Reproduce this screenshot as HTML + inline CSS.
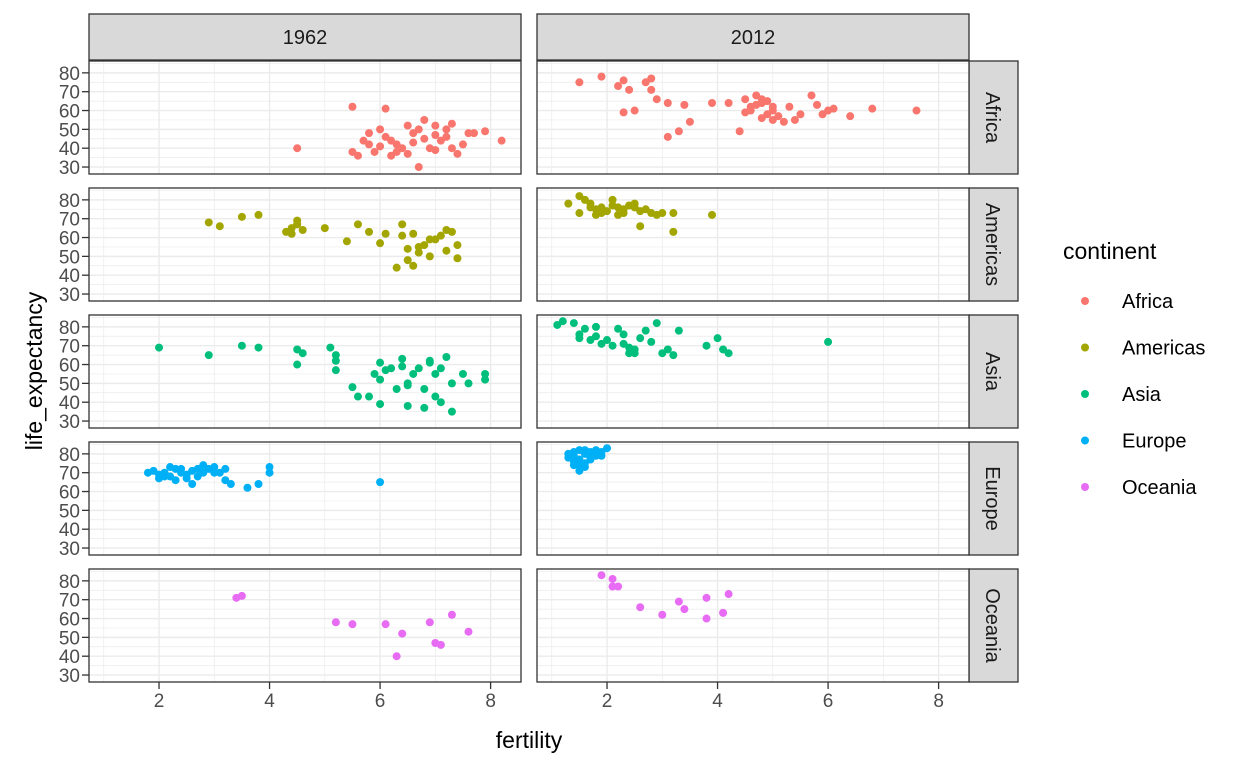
<!DOCTYPE html>
<html><head><meta charset="utf-8"><style>
body{margin:0;background:#fff;}
svg{display:block;font-family:"Liberation Sans",Arial,sans-serif;}
</style></head><body>
<svg id="chart" width="1248" height="768"></svg>
<script>
const years=["1962","2012"];
const continents=["Africa","Americas","Asia","Europe","Oceania"];
const colors=["#F8766D","#A3A500","#00BF7D","#00B0F6","#E76BF3"];
const xTicks=[2,4,6,8];
const yTicks=[30,40,50,60,70,80];
const africa1962=[[4.5,40],[5.5,62],[6.1,61],[5.5,38],[5.6,36],[5.7,44],[5.8,48],[5.9,38],[6.0,50],[6.1,46],[6.2,36],[6.3,42],[6.4,40],[6.5,37],[6.6,48],[6.7,50],[6.7,30],[6.8,45],[6.9,40],[7.0,52],[7.0,47],[7.1,44],[7.2,50],[7.3,53],[7.3,40],[7.4,37],[7.5,42],[7.6,48],[7.7,48],[7.9,49],[8.2,44],[6.0,41],[6.2,44],[6.5,52],[6.8,55],[7.0,39],[7.2,46],[6.3,38],[5.8,42],[6.6,43]];
const africa2012=[[1.5,75],[1.9,78],[2.2,73],[2.3,76],[2.4,71],[2.7,75],[2.8,77],[2.8,71],[2.5,60],[2.9,66],[2.3,59],[3.1,64],[3.1,46],[3.3,49],[3.4,63],[3.5,54],[3.9,64],[4.2,64],[4.4,49],[4.5,66],[4.6,62],[4.7,68],[4.8,64],[4.9,58],[5.0,60],[4.8,56],[5.0,55],[5.2,54],[5.4,55],[5.3,62],[5.5,58],[5.7,68],[5.8,63],[5.9,58],[6.0,60],[6.1,61],[6.4,57],[6.8,61],[7.6,60],[4.6,60],[4.9,65],[5.0,62],[4.7,63],[4.5,59],[5.1,57],[4.8,66]];
const americas1962=[[2.9,68],[3.1,66],[3.5,71],[3.8,72],[4.3,63],[4.4,65],[4.5,69],[4.5,67],[4.4,62],[4.6,64],[5.0,65],[5.4,58],[5.6,67],[5.8,63],[6.0,57],[6.1,62],[6.3,44],[6.4,67],[6.4,61],[6.5,48],[6.6,45],[6.6,62],[6.7,55],[6.8,56],[6.9,59],[6.9,50],[7.0,59],[7.1,61],[7.2,64],[7.2,53],[7.3,63],[7.4,56],[7.4,49],[6.7,52],[6.5,54]];
const americas2012=[[1.3,78],[1.5,82],[1.6,80],[1.7,78],[1.8,75],[1.9,76],[1.5,73],[1.8,72],[2.0,74],[2.1,77],[2.2,76],[2.3,75],[2.3,73],[2.4,77],[2.5,78],[2.5,76],[2.6,74],[2.6,66],[2.8,73],[2.9,72],[3.0,73],[3.2,63],[3.2,73],[3.9,72],[2.2,72],[1.9,73],[2.1,80],[1.7,76],[2.7,75]];
const asia1962=[[2.0,69],[2.9,65],[3.5,70],[3.8,69],[4.5,68],[4.5,60],[4.6,66],[5.1,69],[5.2,65],[5.2,57],[5.2,62],[5.5,48],[5.6,43],[5.8,43],[5.9,55],[6.0,61],[6.0,39],[6.1,57],[6.2,58],[6.3,47],[6.4,63],[6.4,59],[6.5,50],[6.5,38],[6.6,55],[6.7,58],[6.8,37],[6.8,47],[6.9,61],[6.9,62],[7.0,55],[7.0,43],[7.1,58],[7.1,40],[7.2,64],[7.3,35],[7.3,50],[7.5,55],[7.6,50],[7.9,55],[7.9,52],[6.5,49],[6.0,52]];
const asia2012=[[1.1,81],[1.2,83],[1.4,82],[1.5,76],[1.6,79],[1.7,73],[1.8,80],[1.8,75],[1.9,71],[2.0,73],[2.2,79],[2.3,76],[2.4,69],[2.4,66],[2.5,68],[2.6,74],[2.7,78],[2.8,72],[2.9,82],[3.0,66],[3.1,68],[3.2,65],[3.3,78],[3.8,70],[4.0,74],[4.1,68],[4.2,66],[6.0,72],[2.3,71],[2.5,66],[1.5,74],[2.1,70]];
const europe1962=[[1.8,70],[1.9,71],[2.0,69],[2.0,67],[2.1,70],[2.2,68],[2.3,72],[2.3,66],[2.4,70],[2.5,69],[2.6,71],[2.6,64],[2.7,68],[2.8,70],[2.9,72],[3.0,70],[3.0,73],[3.1,70],[3.2,66],[3.2,72],[3.6,62],[3.8,64],[4.0,73],[4.0,70],[6.0,65],[2.2,73],[2.4,72],[2.8,74],[2.1,68],[2.5,67],[2.7,72],[3.3,64]];
const europe2012=[[1.3,80],[1.4,79],[1.4,76],[1.5,82],[1.5,74],[1.5,71],[1.6,80],[1.6,75],[1.7,81],[1.7,78],[1.8,82],[1.9,81],[2.0,83],[1.3,78],[1.4,81],[1.6,73],[1.5,77],[1.9,79],[1.6,82],[1.8,79],[1.4,74],[1.7,77]];
const oceania1962=[[3.4,71],[3.5,72],[5.2,58],[5.5,57],[6.1,57],[6.3,40],[6.4,52],[6.9,58],[7.0,47],[7.1,46],[7.3,62],[7.6,53]];
const oceania2012=[[1.9,83],[2.1,81],[2.1,77],[2.2,77],[2.6,66],[3.0,62],[3.3,69],[3.4,65],[3.8,71],[3.8,60],[4.1,63],[4.2,73]];
const series=[[africa1962,africa2012],[americas1962,americas2012],[asia1962,asia2012],[europe1962,europe2012],[oceania1962,oceania2012]];

const NS="http://www.w3.org/2000/svg";
const svg=document.getElementById("chart");
function mk(tag,attrs,parent){const e=document.createElementNS(NS,tag);for(const k in attrs)e.setAttribute(k,attrs[k]);(parent||svg).appendChild(e);return e;}
const colX=[89,537], panelW=432;
const rowY=[61,188,315,442,569], panelH=113;
const xMin=0.733,xMax=8.55, yMin=26.3,yMax=86.3;
function sx(c,v){return colX[c]+(v-xMin)/(xMax-xMin)*panelW;}
function sy(r,v){return rowY[r]+panelH-(v-yMin)/(yMax-yMin)*panelH;}

years.forEach((y,c)=>{
  const g=mk("g",{});
  
  
  mk("rect",{x:colX[c],y:14,width:panelW,height:46,fill:"#d9d9d9",stroke:"#333",["stroke-width"]:1.3},g);
  const t=mk("text",{x:colX[c]+panelW/2,y:44,"text-anchor":"middle","font-size":20,fill:"#1a1a1a"},g);t.textContent=y;
});
continents.forEach((cn,r)=>{
  const g=mk("g",{});
  
  
  mk("rect",{x:969,y:rowY[r],width:49,height:panelH,fill:"#d9d9d9",stroke:"#333",["stroke-width"]:1.3},g);
  const cx=986,cy=rowY[r]+panelH/2;
  const t=mk("text",{x:cx,y:cy,"text-anchor":"middle","font-size":20,fill:"#1a1a1a",transform:`rotate(90 ${cx} ${cy})`},g);t.textContent=cn;
});
for(let r=0;r<5;r++)for(let c=0;c<2;c++){
  const g=mk("g",{});
  
  
  mk("rect",{x:colX[c],y:rowY[r],width:panelW,height:panelH,fill:"#fff"},g);
  [1,3,5,7].forEach(v=>mk("line",{x1:sx(c,v),x2:sx(c,v),y1:rowY[r],y2:rowY[r]+panelH,stroke:"#ebebeb","stroke-width":0.7},g));
  [35,45,55,65,75,85].forEach(v=>mk("line",{x1:colX[c],x2:colX[c]+panelW,y1:sy(r,v),y2:sy(r,v),stroke:"#ebebeb","stroke-width":0.7},g));
  xTicks.forEach(v=>mk("line",{x1:sx(c,v),x2:sx(c,v),y1:rowY[r],y2:rowY[r]+panelH,stroke:"#ebebeb","stroke-width":1.4},g));
  yTicks.forEach(v=>mk("line",{x1:colX[c],x2:colX[c]+panelW,y1:sy(r,v),y2:sy(r,v),stroke:"#ebebeb","stroke-width":1.4},g));
  series[r][c].forEach(p=>{
    const d=mk("circle",{cx:sx(c,p[0]),cy:sy(r,p[1]),r:4,fill:colors[r]},g);
    
    
  });
  mk("rect",{x:colX[c],y:rowY[r],width:panelW,height:panelH,fill:"none",stroke:"#333","stroke-width":1.3},g);
  if(c===0){
    const ay=mk("g",{});
    
    
    yTicks.forEach(v=>{
      mk("line",{x1:colX[0]-7,x2:colX[0],y1:sy(r,v),y2:sy(r,v),stroke:"#333","stroke-width":1.3},ay);
      const t=mk("text",{x:colX[0]-9,y:sy(r,v)+7,"text-anchor":"end","font-size":19,fill:"#4d4d4d"},ay);t.textContent=v;
    });
  }
  if(r===4){
    const ax=mk("g",{});
    
    
    xTicks.forEach(v=>{
      mk("line",{x1:sx(c,v),x2:sx(c,v),y1:rowY[4]+panelH,y2:rowY[4]+panelH+7,stroke:"#333","stroke-width":1.3},ax);
      const t=mk("text",{x:sx(c,v),y:707,"text-anchor":"middle","font-size":19,fill:"#4d4d4d"},ax);t.textContent=v;
    });
  }
}
const xt=mk("text",{x:529,y:748,"text-anchor":"middle","font-size":23,fill:"#000"});xt.textContent="fertility";

const yt=mk("text",{x:42,y:371,"text-anchor":"middle","font-size":23,fill:"#000",transform:"rotate(-90 42 371)"});yt.textContent="life_expectancy";

const lg=mk("g",{});

const lt=mk("text",{x:1063,y:259,"font-size":23,fill:"#000"},lg);lt.textContent="continent";
continents.forEach((cn,i)=>{
  const y=301+i*46.5;
  const e=mk("g",{},lg);
  
  
  mk("circle",{cx:1085,cy:y,r:4,fill:colors[i]},e);
  const t=mk("text",{x:1122,y:y+7,"font-size":20,fill:"#000"},e);t.textContent=cn;
});
</script>
</body></html>
